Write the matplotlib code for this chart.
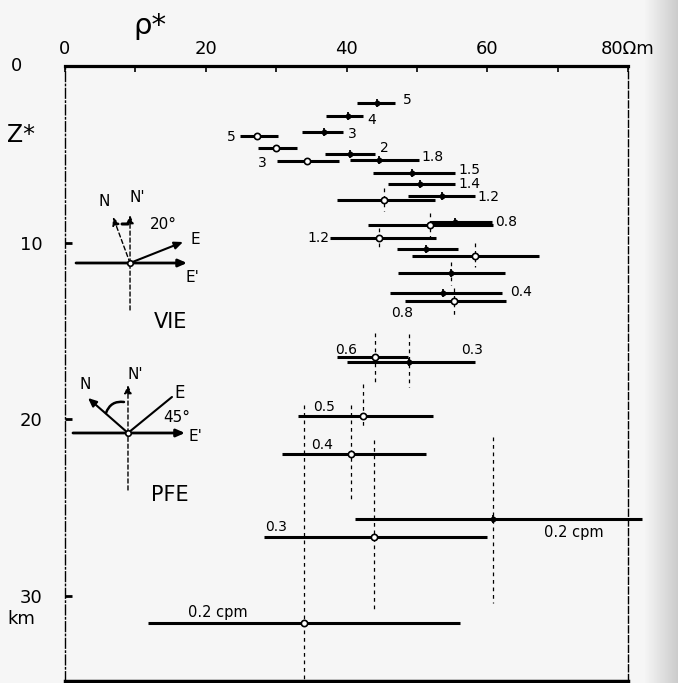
import matplotlib
matplotlib.use("Agg")
import matplotlib.pyplot as plt
import numpy as np

# ---------------- data ----------------
# VIE station (filled markers): frequency label, depth z* (km), rho* range and centre (Ohm m)
vie_labels = ["5", "4", "3", "2", "1.8", "1.5", "1.4", "1.2", "0.8", "", "", "0.4", "0.3", "0.2 cpm"]
vie_z      = [2.10, 2.83, 3.74, 4.99, 5.33, 6.06, 6.69, 7.37, 8.84, 10.37, 11.73, 12.86, 16.77, 25.67]
vie_lo     = [41.5, 37.1, 33.7, 36.9, 40.5, 43.8, 45.9, 48.7, 51.9, 47.2, 47.3, 46.2, 40.1, 41.2]
vie_hi     = [46.9, 42.3, 39.5, 44.0, 50.3, 55.4, 55.4, 58.3, 60.7, 55.8, 62.5, 62.1, 58.3, 82.0]
vie_rho    = [44.3, 40.2, 36.8, 40.5, 44.6, 49.3, 50.4, 53.6, 55.4, 51.3, 54.8, 53.7, 48.9, 60.8]
vie_ztop   = [np.nan] * 10 + [11.1, np.nan, 15.2, 21.0]
vie_zbot   = [np.nan] * 10 + [12.4, np.nan, 18.2, 30.4]

# PFE station (open markers)
pfe_labels = ["5", "", "3", "", "", "1.2", "", "0.8", "0.6", "0.5", "0.4", "0.3", "0.2 cpm"]
pfe_z      = [3.97, 4.65, 5.38, 7.59, 9.01, 9.75, 10.76, 13.31, 16.49, 19.83, 21.98, 26.69, 31.56]
pfe_lo     = [24.9, 27.4, 30.1, 38.7, 43.1, 37.7, 49.3, 48.3, 38.7, 33.1, 30.8, 28.3, 11.8]
pfe_hi     = [30.3, 33.0, 38.9, 52.6, 60.8, 52.7, 67.4, 62.7, 48.7, 52.3, 51.3, 60.0, 56.1]
pfe_rho    = [27.3, 30.0, 34.4, 45.3, 51.9, 44.6, 58.3, 55.3, 44.1, 42.3, 40.6, 43.9, 34.0]
pfe_ztop   = [np.nan, np.nan, np.nan, 6.9, 8.3, 9.2, 10.0, 12.6, 15.1, 18.0, 19.2, 21.2, 19.2]
pfe_zbot   = [np.nan, np.nan, np.nan, 8.2, 9.9, 10.4, 11.4, 14.2, 18.0, 20.5, 24.7, 30.9, 34.8]

x_major = [0, 20, 40, 60, 80]
x_major_labels = ["0", "20", "40", "60", "80\u03a9m"]
x_minor = [10, 30, 50, 70]
y_ticks = [10, 20, 30]
y_tick_labels = ["10", "20", "30"]

# label placement (anchor end of bar, offset in pixels: right, up)
vie_lab_pos = [("R", 12, 3), ("R", 9, -4), ("R", 9, -2), ("R", 10, 6), ("R", 14, 3),
               ("R", 15, 3), ("R", 15, 0), ("R", 13, -1), ("R", 14, 0), ("R", 0, 0),
               ("R", 0, 0), ("R", 19, 1), ("R", -3, 12), ("R", -54, -13)]
pfe_lab_pos = [("L", -9, -1), ("L", 0, 0), ("L", -15, -2), ("L", 0, 0), ("L", 0, 0),
               ("L", -12, 0), ("L", 0, 0), ("L", -3, -12), ("L", 9, 7), ("L", 26, 9),
               ("L", 40, 9), ("L", 12, 10), ("L", 70, 11)]

PX = 0.72  # points per pixel at 100 dpi

# ---------------- figure ----------------
fig = plt.figure(figsize=(6.78, 6.83), dpi=100)
fig.patch.set_facecolor("#f6f6f6")

# right page edge shading
gax = fig.add_axes([645 / 678, 0, 33 / 678, 1])
grad = np.linspace(0.96, 0.80, 64)[None, :]
gax.imshow(grad, aspect="auto", cmap="gray", vmin=0, vmax=1, extent=[0, 1, 0, 1])
gax.set_axis_off()

ax = fig.add_axes([65 / 678, 1 - 681 / 683, 563 / 678, 615 / 683])
ax.set_facecolor("none")
ax.set_xlim(0, 80)
ax.set_ylim(34.84, 0)

# spines
ax.spines["top"].set_linewidth(2.3)
ax.spines["bottom"].set_linewidth(2.5)
ax.spines["left"].set_linewidth(1.0)
ax.spines["left"].set_linestyle((0, (7, 2, 1, 2)))
ax.spines["right"].set_linewidth(1.0)
ax.spines["right"].set_linestyle((0, (5, 2)))

ax.xaxis.tick_top()
ax.set_xticks(x_major)
ax.set_xticklabels(x_major_labels)
ax.set_xticks(x_minor, minor=True)
ax.tick_params(axis="x", which="both", direction="in", length=4, width=1.2,
               labelsize=13, pad=6, top=True, bottom=False)
ax.set_yticks(y_ticks)
ax.set_yticklabels(y_tick_labels)
ax.tick_params(axis="y", which="both", direction="in", length=5, width=2,
               labelsize=13, pad=16, left=True, right=False)

# axis titles and extra labels
ax.text(-6.9, 0, "0", fontsize=13, ha="center", va="center", clip_on=False)
ax.text(-6.2, 31.3, "km", fontsize=13, ha="center", va="center", clip_on=False)
ax.text(-6.2, 3.9, "Z*", fontsize=17, ha="center", va="center", clip_on=False)
fig.text(150 / 678, 1 - 26 / 683, "\u03c1*", fontsize=21, ha="center", va="center")

# ---------------- bars ----------------
ax.hlines(vie_z, vie_lo, vie_hi, colors="k", lw=2.2, clip_on=False, zorder=3)
ax.hlines(pfe_z, pfe_lo, pfe_hi, colors="k", lw=2.2, clip_on=False, zorder=3)

# depth ranges (dashed verticals)
for rho, zt, zb in list(zip(vie_rho, vie_ztop, vie_zbot)) + list(zip(pfe_rho, pfe_ztop, pfe_zbot)):
    if not np.isnan(zt):
        ax.vlines(rho, zt, zb, colors="k", lw=0.9, linestyles=(0, (3, 3)), zorder=2)

ax.plot(vie_rho, vie_z, "|", color="k", ms=6, mew=1.3, zorder=4)
ax.plot(vie_rho, vie_z, "o", color="k", ms=3.2, zorder=4)
ax.plot(pfe_rho, pfe_z, "o", mfc="white", mec="k", ms=4.5, mew=1.2, zorder=5)

# frequency labels
def put_labels(labels, lo, hi, z, pos):
    for lab, l, h, zz, (anc, dx, dy) in zip(labels, lo, hi, z, pos):
        if not lab:
            continue
        x0 = h if anc == "R" else l
        x0 = min(x0, 80.0)
        ax.annotate(lab, xy=(x0, zz), xytext=(dx * PX, dy * PX), textcoords="offset points",
                    ha="center", va="center", fontsize=10.5 if "cpm" in lab else 10,
                    annotation_clip=False)

put_labels(vie_labels, vie_lo, vie_hi, vie_z, vie_lab_pos)
put_labels(pfe_labels, pfe_lo, pfe_hi, pfe_z, pfe_lab_pos)

# ---------------- orientation diagrams ----------------
def seg(c, x0, y0, x1, y1, ls="-", lw=1.3, head=True, rad=0.0):
    style = "-|>,head_length=0.5,head_width=0.22" if head else "-"
    p0 = ax.transData.transform(c)
    inv = ax.transData.inverted()
    a = inv.transform((p0[0] + x0, p0[1] + y0))
    b = inv.transform((p0[0] + x1, p0[1] + y1))
    ax.annotate("", xy=b, xytext=a,
                arrowprops=dict(arrowstyle=style, lw=lw, ls=ls, color="k",
                                shrinkA=0, shrinkB=0,
                                connectionstyle=f"arc3,rad={rad}"),
                annotation_clip=False)

def lab(c, dx, dy, t, fs=11):
    ax.annotate(t, xy=c, xytext=(dx * PX, dy * PX), textcoords="offset points",
                ha="center", va="center", fontsize=fs, annotation_clip=False)

vie_c = (9.24, 11.16)
seg(vie_c, -54, 0, 57, 0, lw=2.0)
seg(vie_c, 0, -47, 0, 0, ls=(0, (3, 2)), lw=1.0, head=False)
seg(vie_c, 0, 0, 0, 48, ls=(0, (3, 2)), lw=1.0)
seg(vie_c, 0, 0, -17, 46, ls=(0, (3, 2)), lw=1.0)
seg(vie_c, 0, 0, 53, 21, lw=1.5)
seg(vie_c, -8, 39, -2, 39, lw=2.2, head=False)
ax.plot(*vie_c, "o", mfc="white", mec="k", ms=4, mew=1.2, zorder=5)
lab(vie_c, -26, 61, "N")
lab(vie_c, 7, 65, "N'")
lab(vie_c, 33, 38, "20\u00b0")
lab(vie_c, 65, 23, "E")
lab(vie_c, 62, -15, "E'")
lab(vie_c, 40, -59, "VIE", fs=15)

pfe_c = (8.95, 20.79)
seg(pfe_c, -55, 0, 57, 0, lw=2.0)
seg(pfe_c, 0, -57, 0, 0, ls=(0, (3, 2)), lw=1.0, head=False)
seg(pfe_c, 0, 0, 0, 48, ls=(0, (3, 2)), lw=1.0)
seg(pfe_c, 0, 0, -40, 35, lw=1.5)
seg(pfe_c, 0, 0, 44, 36, lw=1.5, head=False)
seg(pfe_c, -4, 31, -22, 20, lw=1.8, head=False, rad=0.4)
ax.plot(*pfe_c, "o", mfc="white", mec="k", ms=4, mew=1.2, zorder=5)
lab(pfe_c, -43, 48, "N")
lab(pfe_c, 7, 58, "N'")
lab(pfe_c, 52, 40, "E", fs=12)
lab(pfe_c, 49, 15, "45\u00b0")
lab(pfe_c, 67, -4, "E'")
lab(pfe_c, 42, -62, "PFE", fs=15)

fig.savefig("out.png", dpi=100, facecolor=fig.get_facecolor())
